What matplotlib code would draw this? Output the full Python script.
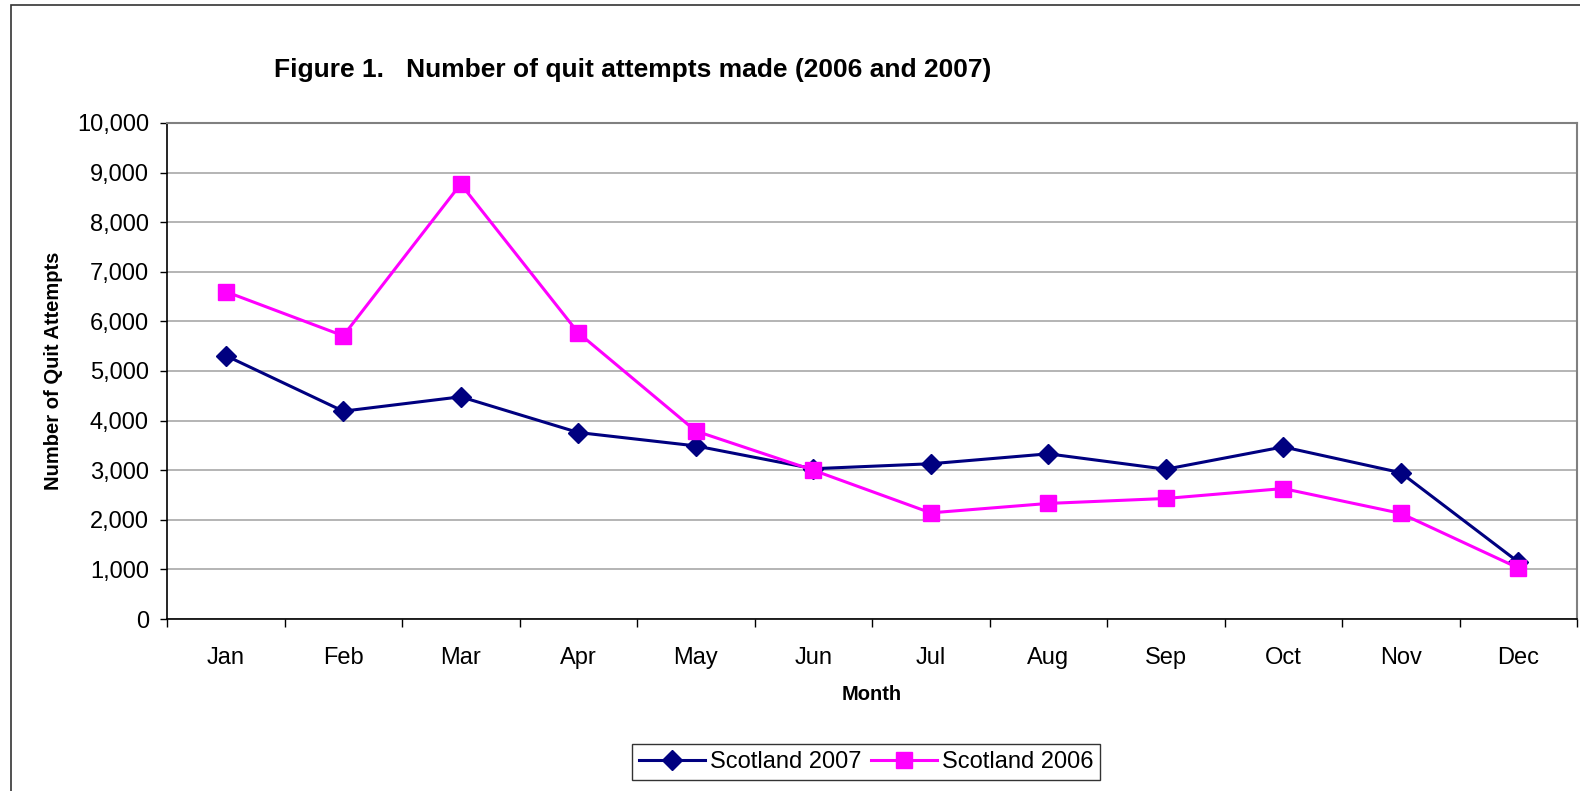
import matplotlib
matplotlib.use("Agg")
import matplotlib.pyplot as plt
import numpy as np
from matplotlib.patches import Rectangle
from matplotlib.ticker import FuncFormatter, MultipleLocator

months = ["Jan", "Feb", "Mar", "Apr", "May", "Jun",
          "Jul", "Aug", "Sep", "Oct", "Nov", "Dec"]
scotland_2007 = [5310, 4190, 4480, 3760, 3490, 3030, 3130, 3330, 3020, 3470, 2950, 1150]
scotland_2006 = [6600, 5710, 8770, 5770, 3790, 3000, 2140, 2330, 2430, 2630, 2130, 1030]

plt.rcParams['font.family'] = ['Liberation Sans', 'DejaVu Sans']

fig = plt.figure(figsize=(15.8, 7.91), dpi=100)
ax = fig.add_axes([167/1580, 1 - 619/791, 1410/1580, 496/791])

x = np.arange(len(months))
ax.plot(x, scotland_2007, color='#000080', lw=2.2, marker='D', ms=10,
        label='Scotland 2007', zorder=3)
ax.plot(x, scotland_2006, color='#FF00FF', lw=2.2, marker='s', ms=11,
        label='Scotland 2006', zorder=4)

ax.set_xlim(-0.5, len(months) - 0.5)
ax.set_ylim(0, 10000)
ax.yaxis.set_major_locator(MultipleLocator(1000))
ax.yaxis.set_major_formatter(FuncFormatter(lambda v, p: f"{int(v):,}"))
ax.grid(axis='y', color='#A8A8A8', lw=1.2)
ax.set_axisbelow(True)

ax.set_xticks(x)
ax.set_xticklabels(months)
ax.set_xticks(np.arange(-0.5, len(months)), minor=True)
ax.tick_params(axis='x', which='major', length=0, pad=20, labelsize=17)
ax.tick_params(axis='x', which='minor', length=6, width=1, direction='out')
ax.tick_params(axis='y', length=5, width=1, pad=8, labelsize=17)

for s in ['left', 'bottom']:
    ax.spines[s].set_color('black')
    ax.spines[s].set_linewidth(1.2)
for s in ['top', 'right']:
    ax.spines[s].set_color('#808080')
    ax.spines[s].set_linewidth(1.5)

ax.set_xlabel('Month', fontsize=14.5, fontweight='bold', labelpad=12)
ax.set_ylabel('Number of Quit Attempts', fontsize=14.5, fontweight='bold', labelpad=10)

fig.text(633/1580, 1 - 70/791, 'Figure 1.   Number of quit attempts made (2006 and 2007)',
         fontsize=19, fontweight='bold', ha='center', va='center')

leg = ax.legend(loc='center', bbox_to_anchor=(866/1580, 1 - 762/791),
                bbox_transform=fig.transFigure, ncol=2, fontsize=17,
                frameon=True, fancybox=False, edgecolor='black',
                handlelength=2.8, columnspacing=0.4, handletextpad=0.2,
                borderpad=0.3, borderaxespad=0)
leg.get_frame().set_linewidth(1)

fig.patches.append(Rectangle((11/1580, -0.1), 1.2, 1 - 5/791 + 0.1,
                             transform=fig.transFigure, fill=False,
                             edgecolor='#333333', lw=1.2, clip_on=False))

fig.savefig('out.png', dpi=100)
